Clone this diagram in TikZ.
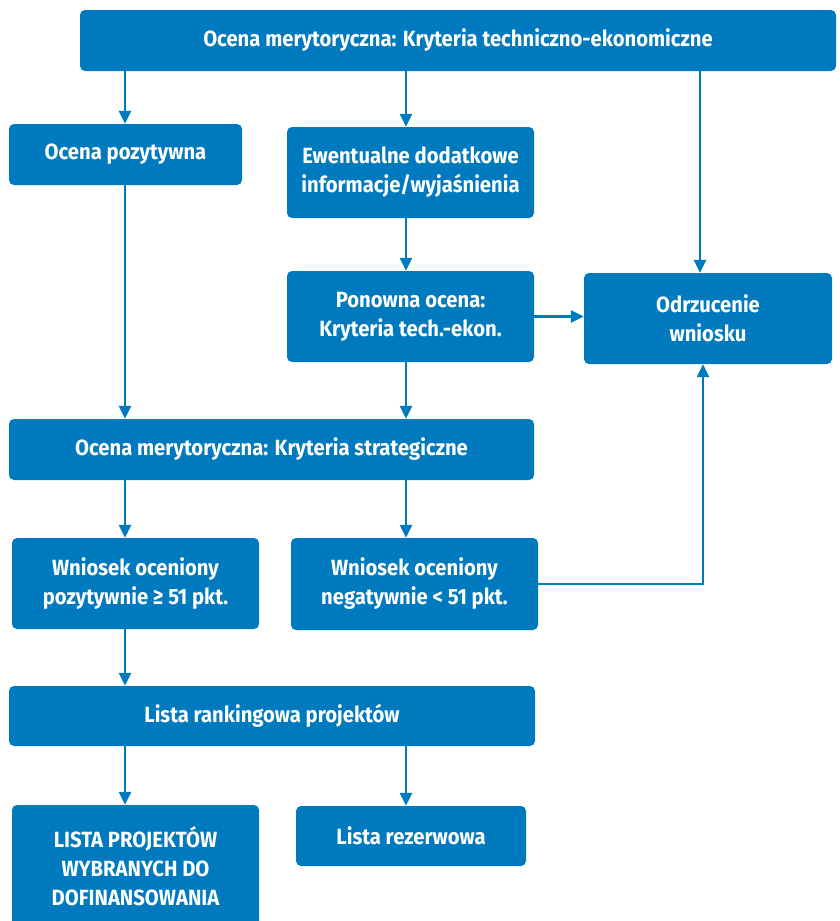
\documentclass[tikz,border=0pt]{standalone}
\usepackage{fontspec}
\setmainfont{Fira Sans}[FakeStretch=0.92]
\usetikzlibrary{arrows.meta}
\definecolor{boxblue}{RGB}{0,122,191}
\begin{document}
\begin{tikzpicture}[x=1pt,y=-1pt,
  box/.style={fill=boxblue, rounded corners=5pt, text=white, align=center,
    font=\bfseries\fontsize{22}{29}\selectfont, inner sep=0pt},
  arr/.style={draw=boxblue, line width=2.4pt, -{Triangle[length=13pt,width=12pt]}}]
\useasboundingbox (0,0) rectangle (840,921);
\coordinate (colL) at (125,0);
\coordinate (colM) at (406,0);
\coordinate (colR) at (703,0);
\coordinate (colT) at (700,0);
\node[box, minimum width=756pt, minimum height=61pt] (top) at (458,40.5) {Ocena merytoryczna: Kryteria techniczno-ekonomiczne};
\node[box, minimum width=233pt, minimum height=61pt] (poz) at (125.5,154.5) {Ocena pozytywna};
\node[box, minimum width=247pt, minimum height=91pt] (ew) at (410.5,172.5) {Ewentualne dodatkowe\\informacje/wyjaśnienia};
\node[box, minimum width=247pt, minimum height=91pt] (pon) at (410.5,316.5) {Ponowna ocena:\\Kryteria tech.-ekon.};
\node[box, minimum width=248pt, minimum height=91pt] (odr) at (708,318.5) {Odrzucenie\\wniosku};
\node[box, minimum width=525pt, minimum height=61pt] (strat) at (271.5,449.5) {Ocena merytoryczna: Kryteria strategiczne};
\node[box, minimum width=247pt, minimum height=91pt] (wpoz) at (135.5,583.5) {Wniosek oceniony\\pozytywnie ≥ 51 pkt.};
\node[box, minimum width=247pt, minimum height=92pt] (wneg) at (414.5,584) {Wniosek oceniony\\negatywnie < 51 pkt.};
\node[box, minimum width=526pt, minimum height=60pt] (rank) at (272,716) {Lista rankingowa projektów};
\node[box, minimum width=247pt, minimum height=122pt] (lista) at (135.5,866) {LISTA PROJEKTÓW\\WYBRANYCH DO\\DOFINANSOWANIA};
\node[box, minimum width=230pt, minimum height=60pt] (rez) at (411,836) {Lista rezerwowa};
\draw[arr] (top.south -| colL) -- (poz.north -| colL);
\draw[arr] (top.south -| colM) -- (ew.north -| colM);
\draw[arr] (top.south -| colT) -- (odr.north -| colT);
\draw[arr] (poz.south -| colL) -- (strat.north -| colL);
\draw[arr] (ew.south -| colM) -- (pon.north -| colM);
\draw[arr] (pon.east) -- (pon.east -| odr.west);
\draw[arr] (pon.south -| colM) -- (strat.north -| colM);
\draw[arr] (strat.south -| colL) -- (wpoz.north -| colL);
\draw[arr] (strat.south -| colM) -- (wneg.north -| colM);
\draw[arr] (wneg.east) -| (odr.south -| colR);
\draw[arr] (wpoz.south -| colL) -- (rank.north -| colL);
\draw[arr] (rank.south -| colL) -- (lista.north -| colL);
\draw[arr] (rank.south -| colM) -- (rez.north -| colM);
\end{tikzpicture}
\end{document}
